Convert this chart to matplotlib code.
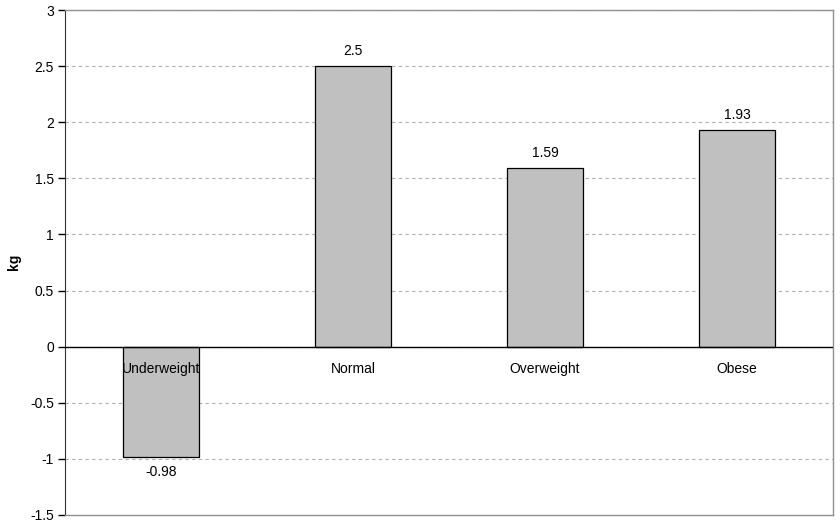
import matplotlib.pyplot as plt
import numpy as np

plt.rcParams['font.family'] = ['Liberation Sans', 'DejaVu Sans']

categories = ['Underweight', 'Normal', 'Overweight', 'Obese']
values = [-0.98, 2.5, 1.59, 1.93]
value_labels = ['-0.98', '2.5', '1.59', '1.93']
y_ticks = [-1.5, -1, -0.5, 0, 0.5, 1, 1.5, 2, 2.5, 3]
y_tick_labels = ['-1.5', '-1', '-0.5', '0', '0.5', '1', '1.5', '2', '2.5', '3']

fig = plt.figure(figsize=(8.4, 5.24), dpi=100)
ax = fig.add_axes([65/840, 1 - 515/524, 768/840, 505/524])

x = np.arange(len(categories))
ax.bar(x, values, width=0.4, color='#c0c0c0', edgecolor='black', linewidth=0.9, zorder=3)

ax.set_xlim(-0.5, len(categories) - 0.5)
ax.set_ylim(-1.5, 3)
ax.set_yticks(y_ticks)
ax.set_yticklabels(y_tick_labels, fontsize=10)
ax.set_xticks([])
ax.yaxis.grid(True, linestyle=(0, (3, 3)), color='#b0b0b0', linewidth=0.8, zorder=0)
ax.axhline(0, color='black', linewidth=1, zorder=4)
ax.tick_params(axis='y', direction='out', length=5, width=1, pad=3)

ax.spines['left'].set_color('#333333')
for s in ['top', 'bottom', 'right']:
    ax.spines[s].set_color('#909090')
    ax.spines[s].set_linewidth(1)

# y label placed by hand, axis labelpad pushed it off the figure
fig.text(14/840, 1 - 262/524, 'kg', rotation=90, ha='center', va='center',
         fontsize=10, fontweight='bold')

# category labels sit just under the zero line
for xi, name in zip(x, categories):
    ax.annotate(name, (xi, 0), xytext=(0, -21), textcoords='offset points',
                ha='center', va='bottom', fontsize=10, zorder=5)

for xi, v, lab in zip(x, values, value_labels):
    if v >= 0:
        ax.annotate(lab, (xi, v), xytext=(0, 6), textcoords='offset points',
                    ha='center', va='bottom', fontsize=10)
    else:
        ax.annotate(lab, (xi, v), xytext=(0, -6), textcoords='offset points',
                    ha='center', va='top', fontsize=10)

fig.savefig('out.png', dpi=100)
